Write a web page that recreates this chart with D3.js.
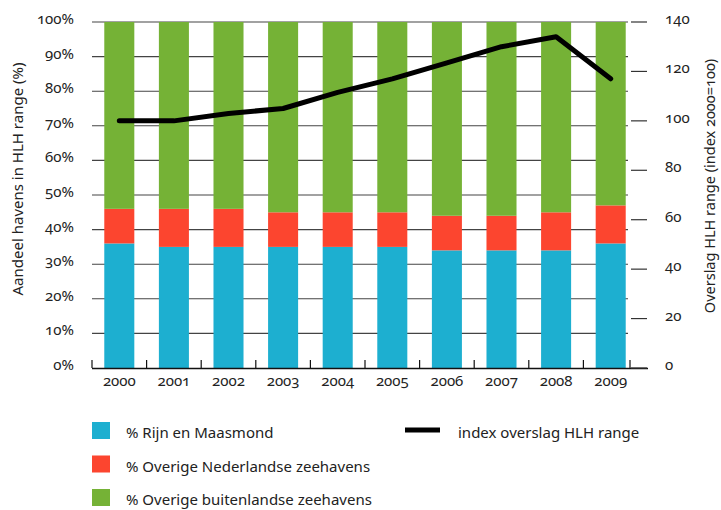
<!DOCTYPE html>
<html><head><meta charset="utf-8">
<script src="https://cdn.jsdelivr.net/npm/d3@7/dist/d3.min.js"></script>
<style>
body{margin:0;background:#fff;}
svg text{font-family:"Noto Sans",sans-serif;fill:#222;font-variant-numeric:oldstyle-nums;font-feature-settings:"onum" 1;}
</style></head>
<body><svg id="c" width="721" height="510"></svg>
<script>
const years = ["2000","2001","2002","2003","2004","2005","2006","2007","2008","2009"];
const rijnMaas = [36,35,35,35,35,35,34,34,34,36];
const overigNL = [10,11,11,10,10,10,10,10,11,11];
const overigBuiten = years.map((d,i)=>100-rijnMaas[i]-overigNL[i]);
const indexOverslag = [100,100,103,105,111.5,117,123.5,130,134,117];
const leftTicks = [0,10,20,30,40,50,60,70,80,90,100];
const rightTicks = [0,20,40,60,80,100,120,140];
const seriesNames = ["% Rijn en Maasmond","% Overige Nederlandse zeehavens","% Overige buitenlandse zeehavens"];
const lineName = "index overslag HLH range";
const colors = ["#1DAFD0","#FC452F","#75B236"];

const svg = d3.select("#c");
const L = 92, R = 630, T = 22, B = 368;
const x = d3.scaleBand().domain(years).range([L, L + 54.6*10]).paddingInner(0.45).paddingOuter(0.225);
const y = d3.scaleLinear().domain([0,100]).range([B,T]);
const y2 = d3.scaleLinear().domain([0,140]).range([B,T]);

// gridlines
svg.append("g").selectAll("line").data(leftTicks.filter(d=>d>0)).join("line")
  .attr("x1",L).attr("x2",R-2).attr("y1",d=>y(d)).attr("y2",d=>y(d))
  .attr("stroke","#444").attr("stroke-width",1.1);

// stacked bars
const rows = years.map((yr,i)=>({year:yr, a:rijnMaas[i], b:overigNL[i], c:overigBuiten[i]}));
const stack = d3.stack().keys(["a","b","c"])(rows);
svg.append("g").selectAll("g").data(stack).join("g").attr("fill",(d,i)=>colors[i])
  .selectAll("rect").data(d=>d).join("rect")
  .attr("x",d=>x(d.data.year)).attr("width",x.bandwidth())
  .attr("y",d=>y(d[1])).attr("height",d=>y(d[0])-y(d[1]));

// bottom axis line and ticks
svg.append("line").attr("x1",L).attr("x2",R+18).attr("y1",B+0.5).attr("y2",B+0.5).attr("stroke","#111").attr("stroke-width",1.3);
const tickXs = years.map(d=>x(d) - x.step()*x.paddingInner()/2).concat([R]);
svg.append("g").selectAll("line").data(tickXs).join("line")
  .attr("x1",d=>d).attr("x2",d=>d).attr("y1",B-8).attr("y2",B)
  .attr("stroke","#111").attr("stroke-width",1.2);
svg.append("g").selectAll("text").data(years).join("text")
  .attr("x",d=>x(d)+x.bandwidth()/2).attr("y",B+18).attr("text-anchor","middle")
  .attr("font-size",15).text(d=>d);

// left axis labels
svg.append("g").selectAll("text").data(leftTicks).join("text")
  .attr("x",74).attr("y",d=>y(d)+2).attr("text-anchor","end").attr("font-size",15)
  .text(d=>d+"%");
svg.append("text").attr("transform","translate(23,179) rotate(-90)").attr("text-anchor","middle")
  .attr("font-size",15).text("Aandeel havens in HLH range (%)");

// right axis
svg.append("g").selectAll("line").data(rightTicks).join("line")
  .attr("x1",631).attr("x2",647).attr("y1",d=>y2(d)).attr("y2",d=>y2(d))
  .attr("stroke","#333").attr("stroke-width",1.2);
svg.append("g").selectAll("text").data(rightTicks).join("text")
  .attr("x",665).attr("y",d=>y2(d)+2).attr("font-size",15).text(d=>d);
svg.append("text").attr("transform","translate(715,186) rotate(-90)").attr("text-anchor","middle")
  .attr("font-size",14.5).text("Overslag HLH range (index 2000=100)");

// line
const line = d3.line().x((d,i)=>x(years[i])+x.bandwidth()/2).y(d=>y2(d));
svg.append("path").datum(indexOverslag).attr("d",line).attr("fill","none")
  .attr("stroke","#000").attr("stroke-width",5).attr("stroke-linejoin","round").attr("stroke-linecap","round");

// legend
const lg = svg.append("g");
seriesNames.forEach((n,i)=>{
  const yy = 422 + i*33.5;
  lg.append("rect").attr("x",92).attr("y",yy).attr("width",18).attr("height",17).attr("fill",colors[i]);
  lg.append("text").attr("x",126).attr("y",yy+16).attr("font-size",15).text(n);
});
lg.append("line").attr("x1",405).attr("x2",440).attr("y1",430).attr("y2",430).attr("stroke","#000").attr("stroke-width",5);
lg.append("text").attr("x",458).attr("y",438).attr("font-size",15).text(lineName);
</script></body></html>
